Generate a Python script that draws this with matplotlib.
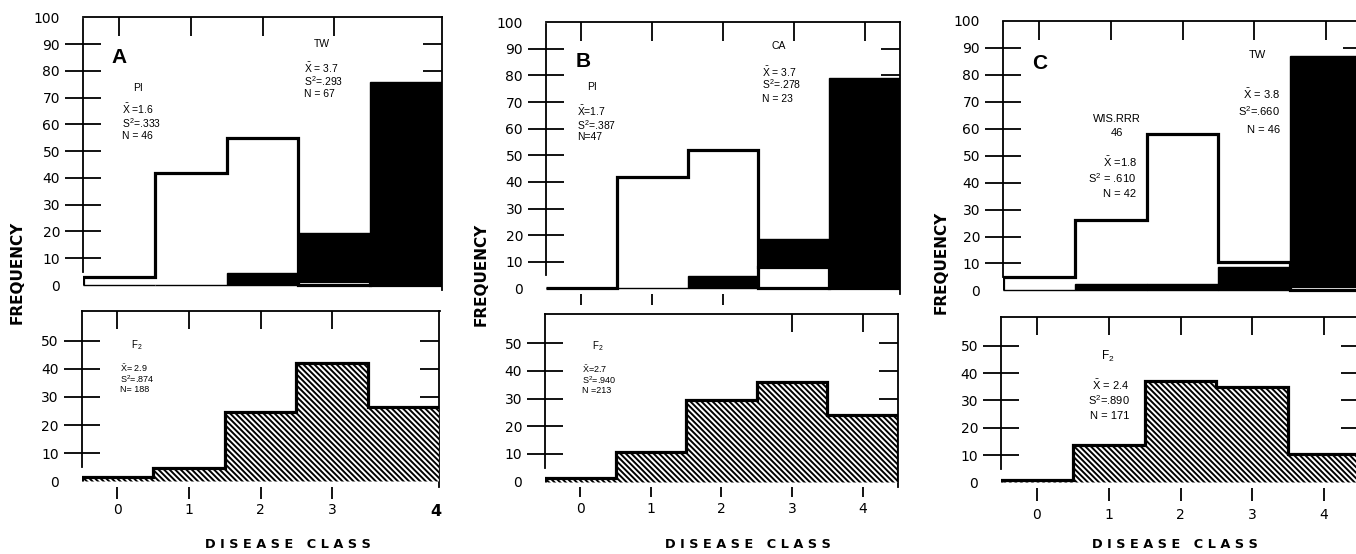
import numpy as np
import matplotlib
matplotlib.use("Agg")
import matplotlib.pyplot as plt

# --- data (frequencies) ---
classes = np.arange(5)
edges = np.arange(-0.5, 5.0, 1.0)

# A
a_sus = [3, 42, 55, 1.5, 0]        # PI
a_res = [0, 0, 4.5, 19.4, 76]      # TW
a_f2 = [1.5, 4.7, 24.8, 42, 26.6]
# B
b_sus = [0, 42, 52, 8, 0]          # PI
b_res = [0, 0, 4.5, 18.7, 79]      # CA
b_f2 = [1.5, 10.8, 29.5, 36.1, 24.1]
# C
c_sus = [5, 26, 58, 10.6, 1.5]     # WIS.RRR 46
c_res = [0, 2.2, 2.2, 8.7, 87]     # TW
c_f2 = [1, 13.6, 37.2, 34.8, 10.4]

panel_letters = ["A", "B", "C"]
a_txt = {"sus": "PI", "sus_st": ["$\\bar{X}$ =1.6", "S$^2$=.333", "N = 46"],
         "res": "TW", "res_st": ["$\\bar{X}$ = 3.7", "S$^2$=.293", "N = 67"],
         "f2_st": ["$\\bar{X}$= 2.9", "S$^2$=.874", "N= 188"]}
b_txt = {"sus": "PI", "sus_st": ["$\\bar{X}$=1.7", "S$^2$=.387", "N=47"],
         "res": "CA", "res_st": ["$\\bar{X}$ = 3.7", "S$^2$=.278", "N = 23"],
         "f2_st": ["$\\bar{X}$=2.7", "S$^2$=.940", "N =213"]}
c_txt = {"sus": "WIS.RRR\n46", "sus_st": ["$\\bar{X}$ =1.8", "S$^2$ = .610", "N = 42"],
         "res": "TW", "res_st": ["$\\bar{X}$ = 3.8", "S$^2$=.660", "N = 46"],
         "f2_st": ["$\\bar{X}$ = 2.4", "S$^2$=.890", "N = 171"]}

plt.rcParams["font.family"] = ["DejaVu Sans"]
plt.rcParams["mathtext.fontset"] = "custom"
plt.rcParams["mathtext.rm"] = "Liberation Sans"
plt.rcParams["mathtext.default"] = "rm"
plt.rcParams["hatch.linewidth"] = 1.4

W, H = 1356, 554
fig = plt.figure(figsize=(W / 100, H / 100), dpi=100)


def rect(l, t, r, b):
    return [l / W, 1 - b / H, (r - l) / W, (b - t) / H]


LW = 2.3
SP = 1.3
TLS = 10


def common(ax, ymax, yt, right_t):
    ax.set_xlim(-0.5, 4.5)
    ax.set_ylim(-2, ymax)
    ax.spines["bottom"].set_visible(False)
    for s in ax.spines.values():
        s.set_linewidth(SP)
    ax.spines["left"].set_bounds(5, ymax)
    ax.set_yticks(yt, [str(v) for v in yt])
    ax.set_yticks(right_t, minor=True)
    ax.yaxis.remove_overlapping_locs = False
    ax.xaxis.remove_overlapping_locs = False
    ax.tick_params(axis="y", which="major", left=True, right=False, direction="inout",
                   length=26, width=SP, pad=3.5, labelsize=TLS)
    ax.tick_params(axis="y", which="minor", left=False, right=True, direction="in",
                   length=14, width=SP)
    tk = ax.yaxis.get_major_ticks()
    tk[0].tick1line.set_visible(False)
    if yt[-1] == 100:
        tk[-1].tick1line.set_visible(False)


def upper(r, sus, res, letter, txt, top_t, bot_t, spec):
    ax = fig.add_axes(rect(*r))
    common(ax, 99.5, list(range(0, 101, 10)), list(range(10, 100, 10)))
    ax.set_xticks(top_t, [])
    ax.tick_params(axis="x", which="major", top=True, bottom=False, direction="in",
                   length=14, width=SP, labelbottom=False)
    ax.set_xticks(bot_t, minor=True)
    ax.tick_params(axis="x", which="minor", top=False, bottom=True, direction="out",
                   length=8, width=SP)
    ax.stairs(sus, edges, baseline=0, fill=True, facecolor="white",
              edgecolor="black", linewidth=LW, zorder=3)
    ax.bar(classes, res, width=1.0, color="black", edgecolor="black", linewidth=1, zorder=4)
    # where the susceptible bar is the shorter one it was drawn over the black bar
    for c, s, rr in zip(classes, sus, res):
        if 0 < s < rr:
            ax.bar(c, s, width=1.0, facecolor="white", edgecolor="black",
                   linewidth=LW, zorder=5)
    ax.text(spec["let"][0], spec["let"][1], letter, fontsize=15, fontweight="bold",
            family="Liberation Sans", ha="left", va="center", zorder=6)
    fs = spec["fs"]
    ax.text(spec["sus"][0], spec["sus"][1], txt["sus"], fontsize=fs, ha="center",
            va="center", family="Liberation Sans", linespacing=1.6, zorder=6)
    for s, y in zip(txt["sus_st"], spec["sus_y"]):
        ax.text(spec["sus_x"], y, s, fontsize=fs, ha=spec["ha"], va="center",
                family="Liberation Sans", zorder=6)
    ax.text(spec["res"][0], spec["res"][1], txt["res"], fontsize=fs, ha="center",
            va="center", family="Liberation Sans", zorder=6)
    for s, y in zip(txt["res_st"], spec["res_y"]):
        ax.text(spec["res_x"], y, s, fontsize=fs, ha=spec["ha"], va="center",
                family="Liberation Sans", zorder=6)
    return ax


def lower(r, f2, txt, top_t, bot_t, spec, tlen, tpad):
    ax = fig.add_axes(rect(*r))
    common(ax, 60.5, list(range(0, 51, 10)), list(range(10, 51, 10)))
    ax.set_xticks(bot_t, [str(v) for v in bot_t])
    ax.tick_params(axis="x", which="major", top=False, bottom=True, direction="out",
                   length=tlen, width=SP, pad=tpad, labelsize=TLS)
    ax.set_xticks(top_t, minor=True)
    ax.tick_params(axis="x", which="minor", top=True, bottom=False, direction="in",
                   length=13, width=SP)
    ax.stairs(f2, edges, baseline=0, fill=True, facecolor="white", edgecolor="black",
              hatch="\\\\\\\\\\\\", linewidth=LW, zorder=3)
    fs = spec["fs"]
    ax.text(spec["f2"][0], spec["f2"][1], "F$_2$", fontsize=fs + 0.5, ha="center",
            va="center", family="Liberation Sans", zorder=6)
    for s, y in zip(txt["f2_st"], spec["f2_y"]):
        ax.text(spec["f2_x"], y, s, fontsize=fs, ha=spec["ha"], va="center",
                family="Liberation Sans", zorder=6)
    return ax


# --- panel A ---
upper((83, 17.3, 442, 290.4), a_sus, a_res, panel_letters[0], a_txt, [0, 1, 2, 3], [],
      {"let": (-0.1, 85), "sus": (0.27, 73.6), "sus_x": 0.04, "sus_y": [65.8, 60.6, 55.6],
       "res": (2.83, 90), "res_x": 2.58, "res_y": [81, 76.2, 71.4], "ha": "left", "fs": 7.5})
axA = lower((81.5, 311.1, 439.5, 487.1), a_f2, a_txt, [0, 1, 2, 3], [0, 1, 2, 3],
            {"f2": (0.27, 48.5), "f2_x": 0.04, "f2_y": [40.2, 36.4, 32.6], "ha": "left",
             "fs": 6.5}, 8.5, 3)
axA.text(4.45, -10.8, "4", fontsize=11.5, fontweight="bold", ha="center", va="center",
         clip_on=False)

# --- panel B ---
upper((546, 22.2, 900, 293.8), b_sus, b_res, panel_letters[1], b_txt, [0, 1, 2, 3, 4],
      [0, 1, 2],
      {"let": (-0.08, 85.4), "sus": (0.15, 75.7), "sus_x": -0.06, "sus_y": [66.7, 61.5, 56.7],
       "res": (2.78, 91), "res_x": 2.55, "res_y": [81.4, 76.7, 71.3], "ha": "left", "fs": 7.5})
lower((545, 314, 898, 487.2), b_f2, b_txt, [3, 4], [0, 1, 2, 3, 4],
      {"f2": (0.25, 49), "f2_x": 0.03, "f2_y": [40.6, 36.8, 33.0], "ha": "left", "fs": 6.5},
      7, 4)

# --- panel C ---
upper((1003, 20.9, 1362, 295.8), c_sus, c_res, panel_letters[2], c_txt, [0, 1, 2, 3, 4], [],
      {"let": (-0.1, 84.3), "sus": (1.08, 61), "sus_x": 1.36, "sus_y": [47.5, 41.6, 35.8],
       "res": (3.04, 87.3), "res_x": 3.36, "res_y": [72.8, 66.6, 59.5], "ha": "right",
       "fs": 8})
lower((1001, 317, 1360, 487.8), c_f2, c_txt, [0, 1, 2, 3, 4], [0, 1, 2, 3, 4],
      {"f2": (0.99, 46.2), "f2_x": 1.29, "f2_y": [35.6, 30.1, 24.3], "ha": "right", "fs": 8},
      9.5, 5)

# axis titles
for x, y in [(17, 272), (481, 274), (941, 262)]:
    fig.text(x / W, 1 - y / H, "FREQUENCY", rotation=90, ha="center", va="center",
             fontsize=11, fontweight="bold")
for x in [288, 748, 1175]:
    fig.text(x / W, 1 - 545 / H, "D I S E A S E   C L A S S", ha="center", va="center",
             fontsize=9.3, fontweight="bold")

fig.savefig("out.png", dpi=100)
